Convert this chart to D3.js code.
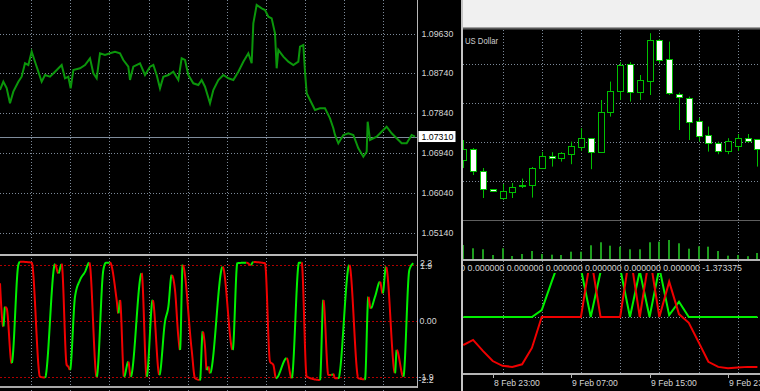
<!DOCTYPE html>
<html><head><meta charset="utf-8">
<script src="https://cdn.jsdelivr.net/npm/d3@7"></script>
<style>
html,body{margin:0;padding:0;background:#000;overflow:hidden;}
svg{display:block;}
text{font-family:"Liberation Sans",Arial,sans-serif;}
</style></head><body>
<svg id="c" width="760" height="391"></svg>
<script>
// ---------- LEFT: EURUSD price line (bar index, price) ----------
const eurBar = [0,10,20,30,40,55,65,75,85,95,105,115,125,135,150,165,185,195,205,212,220,240,255,270,280,290,300,315,330,345,360,370,385,390,400,420,435,450,460,470,480,490,505,520,535,545,555,565,580,595,605,615,630,640,655,670,685,700,715,730,745,755,760,770,785,795,805,815,825,830,835,850,865,880,895,900,910,915,920,935,945,960,975,990,1000,1005,1015,1030,1045,1060,1075,1090,1100,1103,1110,1130,1150,1160,1175,1190,1205,1220,1235,1245];
const eurPrice = [1.08360,1.08547,1.08405,1.08060,1.08322,1.08547,1.08660,1.08962,1.08924,1.09224,1.08998,1.08773,1.08547,1.08698,1.08660,1.08773,1.08924,1.08624,1.08660,1.08398,1.08811,1.08849,1.08924,1.09075,1.08737,1.08624,1.09188,1.09150,1.09188,1.09224,1.09188,1.09037,1.08886,1.08586,1.08886,1.08962,1.08698,1.08886,1.08924,1.08698,1.08398,1.08660,1.08698,1.08773,1.08586,1.09075,1.09037,1.08698,1.08511,1.08473,1.08586,1.08434,1.08060,1.08360,1.08586,1.08698,1.08624,1.08586,1.08773,1.08998,1.09188,1.08962,1.09865,1.10278,1.10203,1.10165,1.10014,1.09977,1.09639,1.08849,1.09262,1.09111,1.08998,1.08924,1.08998,1.09337,1.09375,1.08773,1.08285,1.08060,1.07909,1.07947,1.07947,1.07721,1.07496,1.07345,1.07157,1.07345,1.07383,1.07345,1.07045,1.06855,1.06968,1.07645,1.07232,1.07306,1.07457,1.07532,1.07383,1.07270,1.07157,1.07157,1.07345,1.07306];
const priceTicks = ["1.09630","1.08740","1.07840","1.06940","1.06040","1.05140"];
const bidPrice = "1.07310";
const leftGridBars = [92,210,328,446,563,681,797,915,1032,1150];

// ---------- LEFT: oscillator ----------
const oscBar = [0,10,15,20,35,55,60,95,120,135,165,175,185,200,205,210,225,240,255,268,290,310,318,330,350,355,360,372,385,392,425,440,458,478,495,505,515,525,535,540,548,575,585,600,608,615,620,625,630,668,698,712,740,752,760,795,810,820,828,860,875,897,905,920,960,970,985,995,1000,1005,1015,1048,1075,1095,1105,1112,1125,1140,1148,1158,1185,1190,1210,1228,1240];
const oscVal = [1.28,-0.19,0.48,0.43,-1.43,1.90,2.01,1.98,-1.89,-1.92,1.93,1.62,1.93,-1.49,-1.55,-1.66,0.82,1.39,1.67,1.98,-1.89,1.73,1.98,1.98,0.71,0.26,0.71,-1.89,-1.38,-1.89,1.62,-1.89,0.71,-1.83,-0.02,0.48,1.56,1.05,-0.53,-0.98,1.90,-0.98,-1.94,-2.00,-0.36,-0.87,-1.66,-1.55,-1.77,1.84,-0.98,1.96,1.98,1.90,2.0,1.96,-1.38,-1.49,-1.94,-1.26,-1.94,1.98,1.98,-1.89,-2.0,0.71,-1.83,-1.83,-1.80,-1.94,-1.94,1.90,-1.94,-1.98,0.82,0.43,0.82,1.33,0.94,1.84,-1.77,-0.98,-1.89,1.73,1.96];
const oscLevels = [1.9, 0, -1.9];
const oscLabelsTop = ["2.2","1.9"];
const oscLabelsMid = ["0.00"];
const oscLabelsBot = ["-1.9","-2.2"];

// ---------- RIGHT: US Dollar H1 candles ----------
const rightTitle = "US Dollar";
const candleStartUTC = [2023,1,8,20];
const candleOpen  = [103.910,103.965,103.855,103.763,103.722,103.750,103.778,103.785,103.870,103.930,103.920,103.942,103.977,104.019,103.949,104.149,104.255,104.389,104.249,104.305,104.510,104.414,104.240,104.219,104.107,104.035,103.994,103.955,103.980,104.022,104.015];
const candleHigh  = [104.010,103.970,103.870,103.765,103.790,103.795,103.817,103.875,103.950,103.949,103.949,104.002,104.069,104.020,104.210,104.302,104.399,104.399,104.335,104.544,104.515,104.502,104.247,104.227,104.120,104.077,104.002,104.019,104.040,104.040,104.015];
const candleLow   = [103.870,103.835,103.720,103.753,103.710,103.720,103.770,103.722,103.865,103.877,103.902,103.889,103.955,103.864,103.945,104.127,104.210,104.202,104.210,104.235,104.394,104.235,104.060,104.010,104.002,103.952,103.939,103.939,103.955,103.997,103.877];
const candleClose = [103.965,103.855,103.765,103.755,103.754,103.775,103.784,103.872,103.930,103.922,103.944,103.980,104.019,103.949,104.149,104.255,104.385,104.249,104.310,104.510,104.410,104.244,104.224,104.102,104.032,103.994,103.957,104.007,104.022,104.007,103.965];
const volumes = [3500,2680,2430,1000,2680,750,1250,2000,1250,1080,1000,1830,1830,3430,4180,3330,3080,2430,2430,4180,4330,4750,3930,2580,3180,3080,2000,830,1000,700,1500];
const rightGridLevels = [104.39,104.195,104.0,103.805];
const rightBaseLevel = 103.61;
const timeLabelHoursUTC = [[2023,1,8,23],[2023,1,9,7],[2023,1,9,15],[2023,1,9,23]];

// ---------- RIGHT: indicator ----------
const indGreen = [0,0,0,0,0,0,0,0,0.19,0.96,1.70,2.12,1.32,0,1.24,2.12,1.34,0,1.26,0,1.35,0.05,0.42,0,0,0,0,0,0,0,0];
const indRed = [-0.77,-0.63,-0.93,-1.21,-1.34,-1.37,-1.30,-0.85,0,0,0,0,0,1.66,0,0,0,1.77,0,1.70,0,0.97,0.08,-0.16,-0.69,-1.23,-1.37,-1.41,-1.39,-1.37,-1.373375];
const indValuesText = "0.000000 0.000000 0.000000 0.000000 0.000000 0.000000 0.000000 -1.373375";

// ================= DRAW =================
const svg = d3.select("#c");
const defs = svg.append("defs");
function clip(id,x,y,w,h){defs.append("clipPath").attr("id",id).append("rect").attr("x",x).attr("y",y).attr("width",w).attr("height",h);}
clip("cLP",0,0,417,254);
clip("cLO",0,256,417,130);
clip("cRM",463,30,297,229);
clip("cRI",463,273,297,100);
clip("cRT",463,260,297,14);
clip("cRB",463,375,297,16);

svg.append("rect").attr("width",760).attr("height",391).attr("fill","#000");

const gridColor = "#7d8a99";
const labelColor = "#d6d6d6";

// ---- left scales
const xL = d3.scaleLinear().domain([0,1250]).range([0,416.67]);
const yP = d3.scaleLinear().domain([1.05140,1.09630]).range([232.7,33.7]);
const yO = d3.scaleLinear().domain([-1.9,1.9]).range([377,265]);

// left vertical grid
const lg = svg.append("g");
leftGridBars.forEach(b=>{
  const x = Math.round(xL(b))+0.5;
  lg.append("line").attr("x1",x).attr("x2",x).attr("y1",0).attr("y2",391)
    .attr("stroke",gridColor).attr("stroke-dasharray","1,2");
});
// left horizontal grid
priceTicks.forEach(t=>{
  const y = Math.round(yP(+t))+0.5;
  lg.append("line").attr("x1",0).attr("x2",417).attr("y1",y).attr("y2",y)
    .attr("stroke",gridColor).attr("stroke-dasharray","1,2");
});
// bid line
{
  const y = Math.round(yP(+bidPrice))+0.5;
  svg.append("line").attr("x1",0).attr("x2",417).attr("y1",y).attr("y2",y)
    .attr("stroke","#7f8c9c").attr("stroke-width",1);
}
// price line
const eurData = eurBar.map((b,i)=>[b,eurPrice[i]]);
svg.append("path").datum(eurData).attr("clip-path","url(#cLP)")
  .attr("d", d3.line().x(d=>xL(d[0])).y(d=>yP(d[1])))
  .attr("fill","none").attr("stroke","#0b960b").attr("stroke-width",2).attr("stroke-linejoin","miter");

// separator
svg.append("rect").attr("x",0).attr("y",254).attr("width",418).attr("height",2).attr("fill","#b8b8b8");

// osc levels
oscLevels.forEach(v=>{
  const y = Math.round(yO(v))+0.5;
  svg.append("line").attr("x1",0).attr("x2",417).attr("y1",y).attr("y2",y)
    .attr("stroke","#b00000").attr("stroke-dasharray","2,2");
});
// osc: smooth curve, colored by direction (green rising, red falling)
const og = svg.append("g").attr("clip-path","url(#cLO)");
{
  const oscData = oscBar.map((b,i)=>[b,oscVal[i]]);
  const gen = d3.line().x(d=>xL(d[0])).y(d=>yO(d[1])).curve(d3.curveMonotoneX);
  const tmp = og.append("path").attr("d",gen(oscData)).attr("fill","none").attr("stroke","none");
  const node = tmp.node();
  const len = node.getTotalLength();
  const pts = [];
  for(let s=0;s<=len;s+=0.6){ const p=node.getPointAtLength(s); pts.push([p.x,p.y]); }
  const last=node.getPointAtLength(len); pts.push([last.x,last.y]);
  let runs=[]; let cur=[pts[0]]; let dir=null;
  for(let i=1;i<pts.length;i++){
    const dy = pts[i][1]-pts[i-1][1];
    let d = dy<-0.001 ? "up" : (dy>0.001 ? "down" : dir);
    if(d===null) d="up";
    if(dir!==null && d!==dir){ runs.push({dir,pts:cur}); cur=[pts[i-1]]; }
    dir=d; cur.push(pts[i]);
  }
  runs.push({dir,pts:cur});
  runs.forEach(r=>{
    og.append("path").attr("d",d3.line()(r.pts)).attr("fill","none")
      .attr("stroke", r.dir==="up" ? "#00f000" : "#f00000").attr("stroke-width",2).attr("stroke-linejoin","round");
  });
}
// bottom line left
svg.append("rect").attr("x",0).attr("y",386).attr("width",418).attr("height",2).attr("fill","#a8a8a8");
// left axis line
svg.append("line").attr("x1",417.5).attr("x2",417.5).attr("y1",0).attr("y2",388).attr("stroke","#b8b8b8");

// price labels
priceTicks.forEach(t=>{
  svg.append("text").attr("x",421.5).attr("y",yP(+t)+3.2).attr("font-size",8.8)
    .attr("fill",labelColor).text(t);
});
// bid label
{
  const y = yP(+bidPrice);
  svg.append("rect").attr("x",418.5).attr("y",y-5.5).attr("width",37).attr("height",11).attr("fill","#fff");
  svg.append("text").attr("x",421.5).attr("y",y+3.2).attr("font-size",8.8).attr("fill","#000").text(bidPrice);
}
// osc labels (overlapping as in the terminal)
svg.append("text").attr("x",420).attr("y",yO(1.9)+0.5).attr("font-size",8.8).attr("fill",labelColor).text(oscLabelsTop[0]);
svg.append("text").attr("x",420).attr("y",yO(1.9)+3.6).attr("font-size",8.8).attr("fill",labelColor).text(oscLabelsTop[1]);
svg.append("text").attr("x",419.5).attr("y",yO(0)+3.2).attr("font-size",8.8).attr("fill",labelColor).text(oscLabelsMid[0]);
svg.append("text").attr("x",418.5).attr("y",yO(-1.9)+3.2).attr("font-size",8.8).attr("fill",labelColor).text(oscLabelsBot[0]);
svg.append("text").attr("x",418.5).attr("y",yO(-1.9)+5.6).attr("font-size",8.8).attr("fill",labelColor).text(oscLabelsBot[1]);

// ================= RIGHT =================
const t0 = Date.UTC(...candleStartUTC);
const times = candleOpen.map((_,i)=>new Date(t0 + i*3600e3));
const xR = d3.scaleUtc().domain([new Date(Date.UTC(2023,1,8,23)), new Date(Date.UTC(2023,1,9,23))]).range([492.7,728]);
const yR = d3.scaleLinear().domain([104.0,104.5]).range([142,42]);
const yV = d3.scaleLinear().domain([0,10000]).range([259,219]);
const yI = d3.scaleLinear().domain([-1.373375,0]).range([367,317]);

// top light area
svg.append("rect").attr("x",463).attr("y",0).attr("width",297).attr("height",27).attr("fill","#f0f0f0");
svg.append("line").attr("x1",463).attr("x2",760).attr("y1",27.5).attr("y2",27.5).attr("stroke","#a0a0a0");
svg.append("line").attr("x1",463).attr("x2",760).attr("y1",28.5).attr("y2",28.5).attr("stroke","#5a5a5a");
svg.append("line").attr("x1",463).attr("x2",760).attr("y1",29.5).attr("y2",29.5).attr("stroke","#303030");

// right grid
const gridTimes = d3.utcHour.every(4).range(new Date(Date.UTC(2023,1,8,23)), new Date(Date.UTC(2023,1,10,3)));
const rg = svg.append("g");
gridTimes.forEach(t=>{
  const x = Math.round(xR(t))+0.5;
  if(x>463 && x<760){
    rg.append("line").attr("x1",x).attr("x2",x).attr("y1",30).attr("y2",373)
      .attr("stroke",gridColor).attr("stroke-dasharray","1,2");
  }
});
rightGridLevels.forEach(v=>{
  const y = Math.round(yR(v))+0.5;
  rg.append("line").attr("x1",463).attr("x2",760).attr("y1",y).attr("y2",y)
    .attr("stroke",gridColor).attr("stroke-dasharray","1,2");
});
{
  const y = Math.round(yR(rightBaseLevel))+0.5;
  rg.append("line").attr("x1",463).attr("x2",760).attr("y1",y).attr("y2",y).attr("stroke","#5f5f5f");
}

// title
svg.append("text").attr("x",465).attr("y",43.5).attr("font-size",8.6).attr("fill","#cfcfcf")
  .attr("textLength",33).attr("lengthAdjust","spacingAndGlyphs").text(rightTitle);

// volumes
const rv = svg.append("g").attr("clip-path","url(#cRM)");
volumes.forEach((v,i)=>{
  const x = Math.round(xR(times[i]));
  rv.append("rect").attr("x",x-1).attr("y",yV(v)).attr("width",2).attr("height",yV(0)-yV(v)).attr("fill","#1e9e1e");
});
// candles
const rc = svg.append("g").attr("clip-path","url(#cRM)");
times.forEach((t,i)=>{
  const x = Math.round(xR(t));
  const o=candleOpen[i], c=candleClose[i], h=candleHigh[i], l=candleLow[i];
  const bull = c>=o;
  rc.append("line").attr("x1",x+0.5).attr("x2",x+0.5).attr("y1",yR(h)).attr("y2",yR(l)).attr("stroke","#00c000");
  const yt = Math.round(yR(Math.max(o,c)))+0.5;
  const yb = Math.round(yR(Math.min(o,c)))+0.5;
  rc.append("rect").attr("x",x-2.5).attr("y",yt).attr("width",6).attr("height",Math.max(1,yb-yt))
    .attr("fill", bull ? "#000" : "#fff").attr("stroke","#00c000");
});

// right separators
svg.append("rect").attr("x",463).attr("y",259).attr("width",297).attr("height",2).attr("fill","#b4b4b4");
svg.append("rect").attr("x",463).attr("y",373).attr("width",297).attr("height",2).attr("fill","#b4b4b4");

// indicator values text
svg.append("text").attr("clip-path","url(#cRT)").attr("x",742).attr("y",270.5).attr("font-size",8.8)
  .attr("text-anchor","end").attr("fill","#d0d0d0").text(indValuesText);

// indicator zero line
svg.append("line").attr("x1",463).attr("x2",760).attr("y1",Math.round(yI(0))+0.5).attr("y2",Math.round(yI(0))+0.5)
  .attr("stroke",gridColor).attr("stroke-dasharray","1,2");
const ri = svg.append("g").attr("clip-path","url(#cRI)");
const lineR = d3.line().x((d,i)=>xR(times[i])).y(d=>yI(d));
ri.append("path").datum(indGreen).attr("d",lineR).attr("fill","none").attr("stroke","#00f000").attr("stroke-width",2);
ri.append("path").datum(indRed).attr("d",lineR).attr("fill","none").attr("stroke","#f00000").attr("stroke-width",2);

// time labels
const fmt = d3.utcFormat("%-d %b %H:%M");
const rb = svg.append("g").attr("clip-path","url(#cRB)");
timeLabelHoursUTC.map(a=>new Date(Date.UTC(...a))).forEach(t=>{
  const x = Math.round(xR(t))+0.5;
  rb.append("line").attr("x1",x).attr("x2",x).attr("y1",375).attr("y2",378).attr("stroke","#b4b4b4");
  rb.append("text").attr("x",x+0.5).attr("y",385.5).attr("font-size",8.6).attr("fill",labelColor).text(fmt(t));
});

// right panel left border
svg.append("rect").attr("x",461).attr("y",0).attr("width",2).attr("height",391).attr("fill","#c4c4c4");
</script>
</body></html>
